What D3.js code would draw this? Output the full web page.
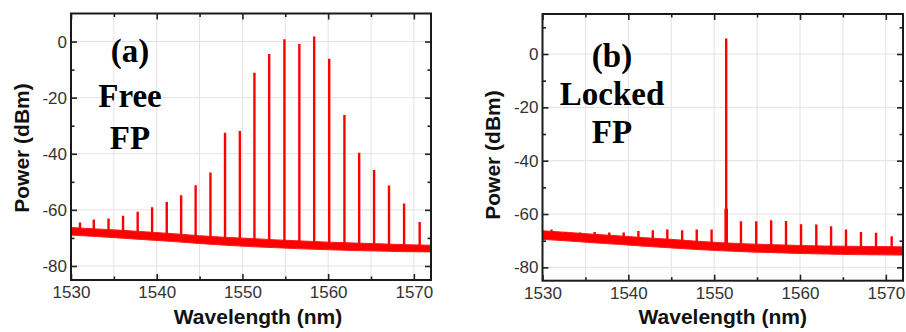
<!DOCTYPE html>
<html>
<head>
<meta charset="utf-8">
<script src="https://cdn.jsdelivr.net/npm/d3@7"></script>
<style>
  body { margin: 0; background: #fff; }
  svg { display: block; }
</style>
</head>
<body>
<div id="chart"></div>
<script>
// Data
const modeWl = [1531.05, 1532.66, 1534.38, 1536.07, 1537.78, 1539.46, 1541.17, 1542.85,
  1544.54, 1546.27, 1547.97, 1549.70, 1551.40, 1553.12, 1554.90, 1556.64,
  1558.37, 1560.12, 1561.90, 1563.62, 1565.36, 1567.10, 1568.86, 1570.68]

// peak power of each FP mode (dBm)
const peakA = [-64.5, -63.4, -63.1, -62.1, -60.7, -59.1, -57.2, -54.8, -51.2, -46.7, -32.5, -31.9,
  -11.1, -4.4, 0.8, -0.9, 1.8, -6.1, -26.2, -39.6, -45.8, -51.3, -57.7, -64.3]
const peakB = [-65.8, -66.7, -66.9, -66.7, -66.9, -66.9, -66.4, -66.1, -65.8, -66.1, -65.8, -65.8,
  5.8, -62.7, -62.7, -62.3, -62.6, -63.8, -63.9, -64.6, -65.8, -66.7, -67.0, -68.3]

// noise floor band (upper / lower edge)
const floorWl = [1530, 1533, 1536, 1539, 1542, 1545, 1548, 1551, 1554, 1557, 1560, 1563, 1566, 1569, 1572]
const floorTopA = [-66.3, -66.8, -67.3, -67.9, -68.5, -69.2, -69.8, -70.2, -70.7, -71.1, -71.5, -71.8, -72.1, -72.4, -72.6]
const floorBotA = [-69.0, -69.5, -70.1, -70.7, -71.3, -72.0, -72.6, -73.1, -73.5, -73.9, -74.2, -74.5, -74.7, -74.9, -75.0]
const floorTopB = [-66.3, -66.9, -67.6, -68.2, -68.9, -69.5, -70.2, -70.8, -71.2, -71.5, -71.8, -72.0, -72.1, -72.2, -72.3]
const floorBotB = [-69.5, -70.1, -70.8, -71.4, -72.1, -72.7, -73.3, -73.8, -74.2, -74.5, -74.8, -75.0, -75.2, -75.3, -75.4]

// pedestal under the injection-locked line
const pedestalWl = [1551.40]
const pedestalTop = [-58]

const xTicks = [1530, 1540, 1550, 1560, 1570]
const xMinor = [1535, 1545, 1555, 1565]
const xGrid = [1535, 1540, 1545, 1550, 1555, 1560, 1565, 1570]
const yTicks = [0, -20, -40, -60, -80]
const yMinorA = [-10, -30, -50, -70]
const yMinorB = [10, -10, -30, -50, -70]

const labelA = ['(a)', 'Free', 'FP']
const labelB = ['(b)', 'Locked', 'FP']

// Dimensions
const width = 906
const height = 332

const svg = d3.select('#chart')
  .append('svg')
  .attr('width', width)
  .attr('height', height)

function drawPanel(p) {
  const x = d3.scaleLinear().domain([1530, 1572]).range(p.xRange)
  const y = d3.scaleLinear().domain(p.yDomain).range(p.yRange)
  const [x0, x1] = p.xRange
  const [y0, y1] = [p.yRange[1], p.yRange[0]]

  const g = svg.append('g')

  // grid
  g.append('g').selectAll('line')
    .data(xGrid)
    .join('line')
    .attr('x1', d => x(d)).attr('x2', d => x(d))
    .attr('y1', y0).attr('y2', y1)
    .attr('stroke', '#e2e2e2')
  g.append('g').selectAll('line')
    .data(yTicks)
    .join('line')
    .attr('x1', x0).attr('x2', x1)
    .attr('y1', d => y(d)).attr('y2', d => y(d))
    .attr('stroke', '#e2e2e2')

  // data
  const clipId = 'clip-' + p.id
  svg.append('clipPath').attr('id', clipId)
    .append('rect')
    .attr('x', x0).attr('y', y0)
    .attr('width', x1 - x0).attr('height', y1 - y0)

  const plot = g.append('g').attr('clip-path', `url(#${clipId})`)

  const band = d3.area()
    .x((d, i) => x(floorWl[i]))
    .y0((d, i) => y(p.floorBot[i]))
    .y1((d, i) => y(p.floorTop[i]))
  plot.append('path')
    .attr('d', band(floorWl))
    .attr('fill', '#ff0000')
    .attr('stroke', '#ff1a1a')
    .attr('stroke-width', 1)

  // base of each spike sits in the middle of the floor band
  const floorMid = d3.scaleLinear()
    .domain(floorWl)
    .range(floorWl.map((d, i) => (p.floorTop[i] + p.floorBot[i]) / 2))

  if (p.pedestal) {
    plot.selectAll('line.ped')
      .data(pedestalWl)
      .join('line')
      .attr('class', 'ped')
      .attr('x1', d => x(d)).attr('x2', d => x(d))
      .attr('y1', d => y(floorMid(d)))
      .attr('y2', (d, i) => y(pedestalTop[i]))
      .attr('stroke', '#ff0000')
      .attr('stroke-width', 3.6)
  }

  plot.selectAll('line.peak')
    .data(modeWl)
    .join('line')
    .attr('class', 'peak')
    .attr('x1', d => x(d)).attr('x2', d => x(d))
    .attr('y1', d => y(floorMid(d)))
    .attr('y2', (d, i) => y(p.peaks[i]))
    .attr('stroke', '#ff0000')
    .attr('stroke-width', 2.4)

  // axes (ticks pointing inward)
  const fmt = d => String(d)
  const styleAxis = sel => {
    sel.select('.domain').remove()
    sel.selectAll('.tick line').attr('stroke', '#222').attr('stroke-width', 1.6)
    sel.selectAll('text')
      .attr('fill', '#333')
      .style('font-family', '"Liberation Sans", Arial, sans-serif')
      .style('font-size', '17px')
  }

  g.append('g').attr('transform', `translate(0,${y1})`)
    .call(d3.axisBottom(x).tickValues(xTicks).tickSize(-6).tickPadding(6).tickFormat(fmt))
    .call(styleAxis)
  g.append('g').attr('transform', `translate(0,${y1})`)
    .call(d3.axisBottom(x).tickValues(xMinor).tickSize(-3.5).tickFormat(''))
    .call(styleAxis)
  g.append('g').attr('transform', `translate(0,${y0})`)
    .call(d3.axisTop(x).tickValues(xTicks).tickSize(-6).tickFormat(''))
    .call(styleAxis)
  g.append('g').attr('transform', `translate(0,${y0})`)
    .call(d3.axisTop(x).tickValues(xMinor).tickSize(-3.5).tickFormat(''))
    .call(styleAxis)

  g.append('g').attr('transform', `translate(${x0},0)`)
    .call(d3.axisLeft(y).tickValues(yTicks).tickSize(-6).tickPadding(4).tickFormat(fmt))
    .call(styleAxis)
  g.append('g').attr('transform', `translate(${x0},0)`)
    .call(d3.axisLeft(y).tickValues(p.yMinor).tickSize(-3.5).tickFormat(''))
    .call(styleAxis)
  g.append('g').attr('transform', `translate(${x1},0)`)
    .call(d3.axisRight(y).tickValues(yTicks).tickSize(-6).tickFormat(''))
    .call(styleAxis)
  g.append('g').attr('transform', `translate(${x1},0)`)
    .call(d3.axisRight(y).tickValues(p.yMinor).tickSize(-3.5).tickFormat(''))
    .call(styleAxis)

  // frame
  g.append('rect')
    .attr('x', x0).attr('y', y0)
    .attr('width', x1 - x0).attr('height', y1 - y0)
    .attr('fill', 'none')
    .attr('stroke', '#1a1a1a')
    .attr('stroke-width', 2)

  // axis titles
  g.append('text')
    .attr('x', p.xTitle[0]).attr('y', p.xTitle[1])
    .attr('text-anchor', 'middle')
    .style('font-family', '"Liberation Sans", Arial, sans-serif')
    .style('font-weight', 'bold')
    .style('font-size', '21px')
    .attr('fill', '#111')
    .text('Wavelength (nm)')

  g.append('text')
    .attr('transform', `translate(${p.yTitle[0]},${p.yTitle[1]}) rotate(-90)`)
    .attr('text-anchor', 'middle')
    .style('font-family', '"Liberation Sans", Arial, sans-serif')
    .style('font-weight', 'bold')
    .style('font-size', '21px')
    .attr('fill', '#111')
    .text('Power (dBm)')

  // panel label
  g.append('g').selectAll('text')
    .data(p.label)
    .join('text')
    .attr('x', p.labelX)
    .attr('y', (d, i) => p.labelY[i])
    .attr('text-anchor', 'middle')
    .style('font-family', '"Liberation Serif", "Times New Roman", serif')
    .style('font-weight', 'bold')
    .style('font-size', '33px')
    .attr('fill', '#000')
    .text(d => d)
}

drawPanel({
  id: 'a',
  xRange: [71, 431],
  yDomain: [-85, 10],
  yRange: [280, 13.5],
  yMinor: yMinorA,
  peaks: peakA,
  floorTop: floorTopA,
  floorBot: floorBotA,
  pedestal: false,
  xTitle: [258, 324],
  yTitle: [29, 148],
  label: labelA,
  labelX: 130,
  labelY: [62, 107, 149],
})

drawPanel({
  id: 'b',
  xRange: [542.5, 903],
  yDomain: [-85, 15],
  yRange: [280.7, 14],
  yMinor: yMinorB,
  peaks: peakB,
  floorTop: floorTopB,
  floorBot: floorBotB,
  pedestal: true,
  xTitle: [722.7, 324],
  yTitle: [500, 155],
  label: labelB,
  labelX: 612,
  labelY: [67, 105, 143],
})
</script>
</body>
</html>
